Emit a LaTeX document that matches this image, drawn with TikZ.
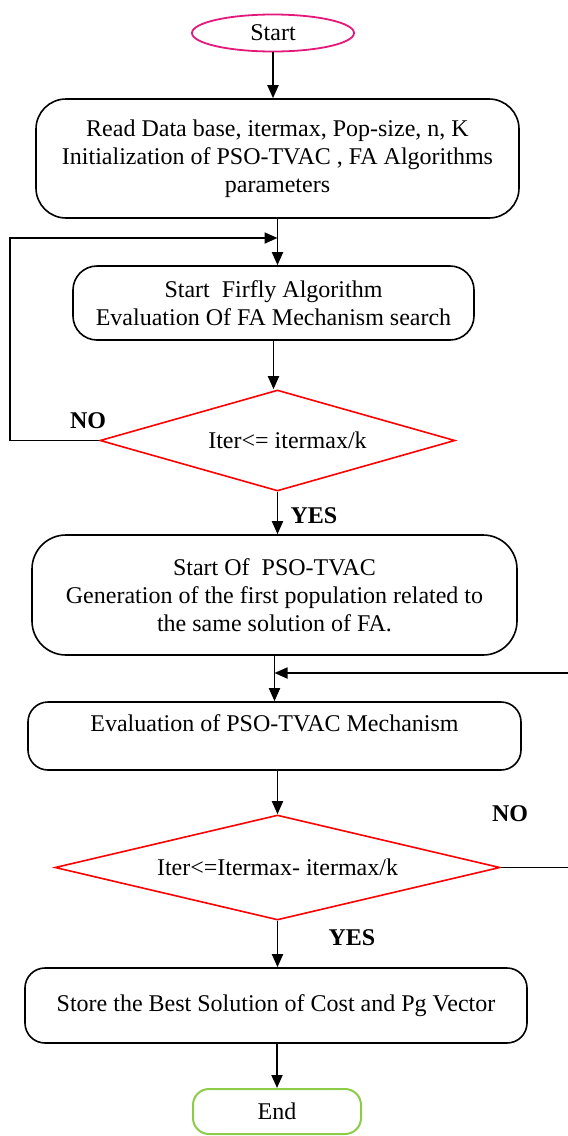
\documentclass[tikz,border=0pt]{standalone}
\usepackage{fontspec}
\setmainfont{Liberation Serif}
\usepackage{tikz}
\usetikzlibrary{arrows.meta, shapes, positioning}
\definecolor{rosa}{RGB}{228,24,122}
\definecolor{verde}{RGB}{140,204,72}

\begin{document}
\begin{tikzpicture}[x=0.5pt, y=-0.5pt, font=\fontsize{12}{14}\selectfont]

	\tikzstyle{caja}=[draw, line width=0.8pt, align=center, inner sep=0pt]
	\tikzstyle{rombo}=[diamond, draw=red, line width=0.8pt, inner sep=0pt]
	\tikzstyle{flecha}=[line width=0.9pt, -{Triangle[length=6.5pt, width=5.5pt]}]
	\tikzstyle{etiq}=[font=\fontsize{12}{14}\selectfont\bfseries]

	\useasboundingbox (0,0) rectangle (568,1136);

	\coordinate (c_ini) at (273, 33); % INICIO
	\coordinate (c_lec) at (277.5, 158.5); % LECTURA DE DATOS
	\coordinate (c_fa) at (273.5, 303); % FIREFLY
	\coordinate (c_d1) at (277.5, 440.5); % CONDICION 1
	\coordinate (c_pso) at (274.5, 595); % PSO-TVAC
	\coordinate (c_ev) at (274.5, 736); % EVALUACION PSO
	\coordinate (c_d2) at (277.5, 867.5); % CONDICION 2
	\coordinate (c_sol) at (276, 1005.5); % SOLUCION
	\coordinate (c_fin) at (277, 1111.5); % FIN

	\node[ellipse, draw=rosa, line width=0.9pt, minimum width=81pt, minimum height=18.5pt, inner sep=0pt] (ini) at (c_ini) {Start};
	\node[caja, rounded corners=15pt, minimum width=241.5pt, minimum height=59.5pt] (lec) at (c_lec) {Read Data base, itermax, Pop-size, n, K\\Initialization of PSO-TVAC , FA Algorithms\\parameters};
	\node[caja, rounded corners=12pt, minimum width=200.5pt, minimum height=37pt] (fa) at (c_fa) {Start\ \ Firfly Algorithm\\Evaluation Of FA Mechanism search};
	\node[rombo, aspect=3.5, minimum width=177.5pt, minimum height=50.5pt] (d1) at (c_d1) {\hspace{10pt}Iter<= itermax/k};
	\node[caja, rounded corners=17pt, minimum width=242.5pt, minimum height=60pt] (pso) at (c_pso) {Start Of\ \ PSO-TVAC\\Generation of the first population related to\\the same solution of FA.};
	\node[caja, rounded corners=10pt, minimum width=246.5pt, minimum height=34pt] (ev) at (c_ev) {Evaluation of PSO-TVAC Mechanism\\[-1pt]~};
	\node[rombo, aspect=4.2, minimum width=222.5pt, minimum height=52.5pt] (d2) at (c_d2) {Iter<=Itermax- itermax/k};
	\node[caja, rounded corners=10pt, minimum width=251pt, minimum height=37.5pt] (sol) at (c_sol) {Store the Best Solution of Cost and Pg Vector};
	\node[caja, draw=verde, line width=1pt, rounded corners=8pt, minimum width=84pt, minimum height=22.5pt] (fin) at (c_fin) {End};

	\node[etiq] (no_1) at (88, 421) {NO};
	\node[etiq] (si_1) at (314, 516) {YES};
	\node[etiq] (no_2) at (510, 814) {NO};
	\node[etiq] (si_2) at (352, 938) {YES};

	\coordinate (izq) at (10, 238);
	\coordinate (m_1) at (277.5, 238);
	\coordinate (der) at (574, 673);
	\coordinate (m_2) at (274.5, 673);

	\draw[flecha] (ini.south) -- (ini.south |- lec.north);
	\draw[flecha] (lec.south) -- (lec.south |- fa.north);
	\draw[flecha] (fa.south) -- (fa.south |- d1.north);
	\draw[flecha] (d1.south) -- (d1.south |- pso.north);
	\draw[flecha] (pso.south) -- (pso.south |- ev.north);
	\draw[flecha] (ev.south -| d2.north) -- (d2.north);
	\draw[flecha] (d2.south) -- (d2.south |- sol.north);
	\draw[flecha] (sol.south -| fin.north) -- (fin.north);

	\draw[flecha] (d1.west) -| (izq) -- (m_1); % LAZO FA
	\draw[flecha] (d2.east) -| (der) -- (m_2); % LAZO PSO

\end{tikzpicture}
\end{document}
